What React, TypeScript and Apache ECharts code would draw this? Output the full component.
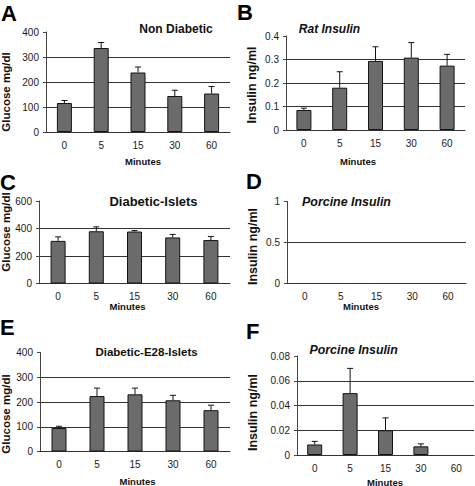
import React, { useEffect, useRef } from 'react';
import * as echarts from 'echarts';

const minutes = ['0', '5', '15', '30', '60'];

const nonDiabetic = [116, 336, 238, 144, 154];
const nonDiabeticErr = [10, 22, 22, 23, 28];

const ratInsulin = [0.085, 0.18, 0.294, 0.308, 0.274];
const ratInsulinErr = [0.008, 0.068, 0.06, 0.064, 0.048];

const diabeticIslets = [310, 380, 378, 335, 316];
const diabeticIsletsErr = [29, 32, 7, 22, 26];

const porcineD: (number | null)[] = [null, null, null, null, null];
const porcineDErr: (number | null)[] = [null, null, null, null, null];

const diabeticE28 = [95, 224, 231, 207, 167];
const diabeticE28Err = [7, 32, 25, 20, 20];

const porcineF: (number | null)[] = [0.0085, 0.05, 0.02, 0.007, null];
const porcineFErr: (number | null)[] = [0.0025, 0.02, 0.01, 0.002, null];

const FONT = '"Liberation Sans", Arial, Helvetica, sans-serif';

type Panel = {
  letter: string;
  letterX: number;
  letterY: number;
  title: string;
  titleX: number;
  titleY: number;
  titleSize: number;
  italic: boolean;
  yName: string;
  yNameX: number;
  yNameY: number;
  yNameSize: number;
  xNameX: number;
  xNameY: number;
  grid: { left: number; top: number; width: number; height: number };
  max: number;
  interval: number;
  values: (number | null)[];
  errors: (number | null)[];
};

const panels: Panel[] = [
  {
    letter: 'A', letterX: 1, letterY: 13.5,
    title: 'Non Diabetic', titleX: 176, titleY: 29, titleSize: 12, italic: false,
    yName: 'Glucose mg/dl', yNameX: 5.5, yNameY: 92, yNameSize: 11.5,
    xNameX: 143, xNameY: 161,
    grid: { left: 46, top: 32, width: 184, height: 100 },
    max: 400, interval: 100, values: nonDiabetic, errors: nonDiabeticErr,
  },
  {
    letter: 'B', letterX: 237, letterY: 12.5,
    title: 'Rat Insulin', titleX: 329.5, titleY: 29.3, titleSize: 12, italic: true,
    yName: 'Insulin ng/ml', yNameX: 252, yNameY: 85, yNameSize: 12.5,
    xNameX: 358, xNameY: 161,
    grid: { left: 286, top: 36, width: 179, height: 94 },
    max: 0.4, interval: 0.1, values: ratInsulin, errors: ratInsulinErr,
  },
  {
    letter: 'C', letterX: 0, letterY: 182.5,
    title: 'Diabetic-Islets', titleX: 153.5, titleY: 201.7, titleSize: 13, italic: false,
    yName: 'Glucose mg/dl', yNameX: 5.5, yNameY: 232, yNameSize: 11.5,
    xNameX: 127.5, xNameY: 306.5,
    grid: { left: 39, top: 201, width: 191, height: 82.5 },
    max: 600, interval: 200, values: diabeticIslets, errors: diabeticIsletsErr,
  },
  {
    letter: 'D', letterX: 246, letterY: 181,
    title: 'Porcine Insulin', titleX: 346.5, titleY: 201.7, titleSize: 12.4, italic: true,
    yName: 'Insulin ng/ml', yNameX: 252.5, yNameY: 246.5, yNameSize: 12.5,
    xNameX: 361, xNameY: 306.5,
    grid: { left: 287, top: 201.5, width: 179, height: 82 },
    max: 1, interval: 0.5, values: porcineD, errors: porcineDErr,
  },
  {
    letter: 'E', letterX: 0, letterY: 327.5,
    title: 'Diabetic-E28-Islets', titleX: 146.5, titleY: 351.7, titleSize: 11.5, italic: false,
    yName: 'Glucose mg/dl', yNameX: 5.5, yNameY: 414, yNameSize: 11.5,
    xNameX: 137.5, xNameY: 481.5,
    grid: { left: 40, top: 352.5, width: 190, height: 99 },
    max: 400, interval: 100, values: diabeticE28, errors: diabeticE28Err,
  },
  {
    letter: 'F', letterX: 246, letterY: 331,
    title: 'Porcine Insulin', titleX: 353.7, titleY: 350, titleSize: 12.3, italic: true,
    yName: 'Insulin ng/ml', yNameX: 252.5, yNameY: 412.5, yNameSize: 12.5,
    xNameX: 385, xNameY: 482,
    grid: { left: 297, top: 356, width: 177, height: 99 },
    max: 0.08, interval: 0.02, values: porcineF, errors: porcineFErr,
  },
];

function buildOption() {
  const grid: any[] = [];
  const xAxis: any[] = [];
  const yAxis: any[] = [];
  const series: any[] = [];
  const graphic: any[] = [];

  panels.forEach((p, i) => {
    grid.push({ ...p.grid, containLabel: false });
    xAxis.push({
      type: 'category',
      gridIndex: i,
      data: minutes,
      axisLine: { show: true, lineStyle: { color: '#333', width: 1 } },
      axisTick: { show: false },
      axisLabel: { color: '#1a1a1a', fontSize: 10, fontFamily: FONT, margin: 8, interval: 0 },
      splitLine: { show: false },
    });
    yAxis.push({
      type: 'value',
      gridIndex: i,
      min: 0,
      max: p.max,
      interval: p.interval,
      axisLine: { show: true, lineStyle: { color: '#444', width: 1 } },
      axisTick: { show: true, length: 3, inside: false, lineStyle: { color: '#444' } },
      axisLabel: { color: '#1a1a1a', fontSize: 10, fontFamily: FONT, margin: 7 },
      splitLine: { show: true, showMaxLine: false, lineStyle: { color: '#333', width: 1 } },
    });
    series.push({
      type: 'bar',
      xAxisIndex: i,
      yAxisIndex: i,
      data: p.values,
      barWidth: 15,
      itemStyle: { color: '#6b6b6b', borderColor: '#141414', borderWidth: 1 },
      silent: true,
      z: 2,
    });
    series.push({
      type: 'custom',
      xAxisIndex: i,
      yAxisIndex: i,
      encode: { x: 0, y: 1 },
      data: p.values
        .map((v, k) => [k, v, p.errors[k]])
        .filter((d) => d[1] != null && d[2] != null),
      z: 3,
      silent: true,
      renderItem: (params: any, api: any) => {
        const x = api.value(0);
        const v = api.value(1);
        const e = api.value(2);
        const base = api.coord([x, v]);
        const top = api.coord([x, v + e]);
        const style = { stroke: '#141414', lineWidth: 1 };
        return {
          type: 'group',
          children: [
            { type: 'line', shape: { x1: base[0], y1: base[1], x2: top[0], y2: top[1] }, style },
            { type: 'line', shape: { x1: top[0] - 3, y1: top[1], x2: top[0] + 3, y2: top[1] }, style },
          ],
        };
      },
    });

    graphic.push({
      type: 'text',
      x: p.letterX,
      y: p.letterY,
      style: {
        text: p.letter,
        fontSize: 22,
        fontWeight: 'bold',
        fontFamily: FONT,
        fill: '#000',
        textAlign: 'left',
        textVerticalAlign: 'middle',
      },
    });
    graphic.push({
      type: 'text',
      x: p.titleX,
      y: p.titleY,
      style: {
        text: p.title,
        fontSize: p.titleSize,
        fontWeight: 'bold',
        fontStyle: p.italic ? 'italic' : 'normal',
        fontFamily: FONT,
        fill: '#111',
        textAlign: 'center',
        textVerticalAlign: 'middle',
      },
    });
    graphic.push({
      type: 'text',
      x: p.yNameX,
      y: p.yNameY,
      rotation: Math.PI / 2,
      style: {
        text: p.yName,
        fontSize: p.yNameSize,
        fontWeight: 'bold',
        fontFamily: FONT,
        fill: '#111',
        textAlign: 'center',
        textVerticalAlign: 'middle',
      },
    });
    graphic.push({
      type: 'text',
      x: p.xNameX,
      y: p.xNameY,
      style: {
        text: 'Minutes',
        fontSize: 9.5,
        fontWeight: 'bold',
        fontFamily: FONT,
        fill: '#111',
        textAlign: 'center',
        textVerticalAlign: 'middle',
      },
    });
  });

  return {
    animation: false,
    backgroundColor: '#ffffff',
    textStyle: { fontFamily: FONT },
    grid,
    xAxis,
    yAxis,
    series,
    graphic,
  };
}

export default function App() {
  const ref = useRef<HTMLDivElement>(null);
  useEffect(() => {
    if (!ref.current) return;
    const chart = echarts.init(ref.current, null, { renderer: 'svg' });
    chart.setOption(buildOption() as any);
    return () => {
      chart.dispose();
    };
  }, []);
  return (
    <div
      ref={ref}
      style={{ position: 'fixed', left: 0, top: 0, width: 475, height: 486, background: '#fff' }}
    />
  );
}
